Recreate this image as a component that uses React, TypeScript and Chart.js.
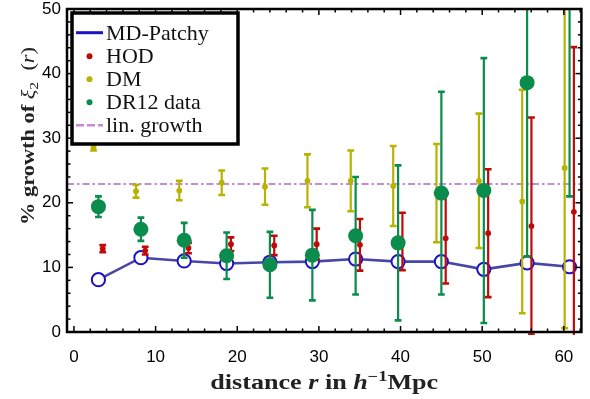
import React, { useEffect, useRef } from 'react';
import { Chart, registerables } from 'chart.js';

Chart.register(...registerables);

// Separation bins (h^-1 Mpc) and growth of the quadrupole, in percent
const rBins = [3.0, 8.2, 13.5, 18.7, 24.0, 29.2, 34.5, 39.7, 45.0, 50.2, 55.5, 60.7];
const patchyGrowth = [8.1, 11.5, 11.0, 10.6, 10.8, 10.9, 11.3, 10.9, 10.9, 9.7, 10.7, 10.1];
const hodGrowth = [12.9, 12.6, 13.0, 13.6, 13.4, 13.6, 13.5, 14.0, 14.5, 15.3, 16.4, 18.6];
const hodError = [0.55, 0.6, 0.8, 1.05, 1.5, 2.4, 4.0, 4.45, 7.0, 9.9, 16.8, 25.5];
const dmGrowth = [28.6, 21.8, 21.9, 23.1, 22.5, 23.4, 23.4, 22.6, 21.5, 23.4, 20.2, 25.4];
const dmError = [0.5, 1.0, 1.5, 1.9, 2.8, 4.1, 4.7, 6.2, 7.6, 10.4, 17.3, 24.8];
const dr12Growth = [19.4, 15.9, 14.2, 11.8, 10.4, 11.9, 14.9, 13.8, 21.5, 21.9, 38.6, 56.0];
const dr12Error = [1.6, 1.8, 2.7, 3.6, 5.1, 7.0, 9.1, 12.0, 15.7, 20.5, 26.9, 35.0];
const linGrowth = 22.9;

const xTicks = [0, 10, 20, 30, 40, 50, 60];
const yTicks = [0, 10, 20, 30, 40, 50];
const legendLabels = ['MD-Patchy', 'HOD', 'DM', 'DR12 data', 'lin. growth'];

const X_MIN = -0.85;
const X_MAX = 62.15;
const HOD_SHIFT = 0.53;
const DM_SHIFT = -0.6;

const GREEN = '#0a8c4c';
const RED = '#c00a0a';
const YELLOW = '#b8b200';
const CIRCLE_BLUE = '#1e12c4';
const LINE_BLUE = '#4646a8';
const ORCHID = '#c88ad2';
const LIN_DASH = [7, 3, 2.5, 3];

type Seg = { t: string; italic?: boolean; bold?: boolean; scale?: number; dy?: number };

const xTitle: Seg[] = [
  { t: 'distance ', bold: true },
  { t: 'r', italic: true, bold: true },
  { t: ' in ', bold: true },
  { t: 'h', italic: true, bold: true },
  { t: '\u22121', bold: true, scale: 0.7, dy: -0.42 },
  { t: 'Mpc', bold: true },
];

const yTitle: Seg[] = [
  { t: '% growth of ', bold: true },
  { t: '\u03be', italic: true },
  { t: '2', scale: 0.7, dy: 0.25 },
  { t: '  (', },
  { t: 'r', italic: true },
  { t: ')' },
];

const SERIF = "'Liberation Serif', 'Times New Roman', serif";
const SANS = "'Liberation Sans', Arial, Helvetica, sans-serif";

function drawRich(ctx: CanvasRenderingContext2D, segs: Seg[], size: number, targetW: number) {
  const fontOf = (s: Seg) =>
    `${s.italic ? 'italic ' : ''}${s.bold ? 'bold ' : ''}${size * (s.scale || 1)}px ${SERIF}`;
  const widths = segs.map((s) => {
    ctx.font = fontOf(s);
    return ctx.measureText(s.t).width;
  });
  const total = widths.reduce((a, b) => a + b, 0);
  ctx.save();
  ctx.scale(targetW / total, 1);
  let x = -total / 2;
  ctx.textAlign = 'left';
  ctx.textBaseline = 'alphabetic';
  segs.forEach((s, i) => {
    ctx.font = fontOf(s);
    ctx.fillText(s.t, x, (s.dy || 0) * size);
    x += widths[i];
  });
  ctx.restore();
}

// Vertical error bars, drawn just beneath each dataset's markers
const errorBars = {
  id: 'errorBars',
  beforeDatasetDraw(chart: any, args: any) {
    const ds = chart.data.datasets[args.index];
    const errs: number[] | undefined = ds.errors;
    if (!errs) return;
    const { ctx, chartArea: a } = chart;
    const ys = chart.scales.y;
    ctx.save();
    ctx.beginPath();
    ctx.rect(a.left, a.top, a.right - a.left, a.bottom - a.top + 3);
    ctx.clip();
    ctx.strokeStyle = ds.borderColor;
    const cap = 3.4;
    args.meta.data.forEach((pt: any, i: number) => {
      const v = ds.data[i].y;
      const e = errs[i];
      const top = ys.getPixelForValue(v + e);
      const bot = ys.getPixelForValue(v - e);
      ctx.lineWidth = 2.2;
      ctx.beginPath();
      ctx.moveTo(pt.x, top);
      ctx.lineTo(pt.x, bot);
      ctx.stroke();
      ctx.lineWidth = 2.6;
      ctx.beginPath();
      ctx.moveTo(pt.x - cap, top);
      ctx.lineTo(pt.x + cap, top);
      ctx.moveTo(pt.x - cap, bot);
      ctx.lineTo(pt.x + cap, bot);
      ctx.stroke();
    });
    ctx.restore();
  },
};

// Frame with inward ticks on all four sides, plus axis titles and legend
const decorations = {
  id: 'decorations',
  afterDatasetsDraw(chart: any) {
    const { ctx, chartArea: a, scales } = chart;
    const xs = scales.x;
    const ys = scales.y;
    ctx.save();
    ctx.strokeStyle = '#000';
    ctx.lineWidth = 1.5;
    const seg = (x1: number, y1: number, x2: number, y2: number) => {
      ctx.beginPath();
      ctx.moveTo(x1, y1);
      ctx.lineTo(x2, y2);
      ctx.stroke();
    };
    for (let i = 0; i <= 31; i++) {
      const v = i * 2;
      const px = xs.getPixelForValue(v);
      if (px < a.left || px > a.right) continue;
      const len = v % 10 === 0 ? 6 : 3.5;
      seg(px, a.bottom, px, a.bottom - len);
      seg(px, a.top, px, a.top + len);
    }
    for (let i = 0; i <= 25; i++) {
      const v = i * 2;
      const py = ys.getPixelForValue(v);
      const len = v % 10 === 0 ? 6 : 3.5;
      seg(a.left, py, a.left + len, py);
      seg(a.right, py, a.right - len, py);
    }
    ctx.lineWidth = 2.5;
    ctx.strokeRect(a.left, a.top, a.right - a.left, a.bottom - a.top);
    ctx.restore();

    // axis titles
    ctx.save();
    ctx.fillStyle = '#222';
    ctx.translate((a.left + a.right) / 2, 389);
    drawRich(ctx, xTitle, 20, 228);
    ctx.restore();

    ctx.save();
    ctx.fillStyle = '#222';
    ctx.translate(33.5, 136);
    ctx.rotate(-Math.PI / 2);
    drawRich(ctx, yTitle, 19, 178);
    ctx.restore();

    // legend
    ctx.save();
    ctx.fillStyle = '#fff';
    ctx.fillRect(72, 13, 166, 131);
    ctx.lineWidth = 3.5;
    ctx.strokeStyle = '#000';
    ctx.strokeRect(72, 13, 166, 131);
    const baselines = [39.5, 63, 86, 109, 132];
    ctx.font = `22px ${SERIF}`;
    ctx.fillStyle = '#111';
    ctx.textBaseline = 'alphabetic';
    ctx.textAlign = 'left';
    legendLabels.forEach((lab, i) => {
      const by = baselines[i];
      const sy = by - 6.8;
      ctx.fillText(lab, 106, by);
      if (i === 0) {
        ctx.strokeStyle = CIRCLE_BLUE;
        ctx.lineWidth = 3;
        ctx.setLineDash([]);
        ctx.beginPath();
        ctx.moveTo(76, sy);
        ctx.lineTo(103, sy);
        ctx.stroke();
      } else if (i === 4) {
        ctx.strokeStyle = ORCHID;
        ctx.lineWidth = 2.5;
        ctx.setLineDash([8, 3]);
        ctx.beginPath();
        ctx.moveTo(76, sy);
        ctx.lineTo(103, sy);
        ctx.stroke();
        ctx.setLineDash([]);
      } else {
        ctx.fillStyle = [RED, YELLOW, GREEN][i - 1];
        ctx.beginPath();
        ctx.arc(89.5, sy, 3, 0, Math.PI * 2);
        ctx.fill();
        ctx.fillStyle = '#111';
      }
    });
    ctx.restore();
  },
};

export default function App() {
  const ref = useRef<HTMLCanvasElement>(null);

  useEffect(() => {
    document.body.style.margin = '0';
    const canvas = ref.current!;
    const chart = new Chart(canvas, {
      type: 'scatter',
      data: {
        datasets: [
          {
            label: 'DR12 data',
            data: rBins.map((r, i) => ({ x: r, y: dr12Growth[i] })),
            backgroundColor: GREEN,
            borderColor: GREEN,
            pointRadius: 7.5,
            pointBorderWidth: 0,
            errors: dr12Error,
          } as any,
          {
            label: 'HOD',
            data: rBins.map((r, i) => ({ x: r + HOD_SHIFT, y: hodGrowth[i] })),
            backgroundColor: RED,
            borderColor: RED,
            pointRadius: 2.9,
            pointBorderWidth: 0,
            errors: hodError,
          } as any,
          {
            label: 'DM',
            data: rBins.map((r, i) => ({ x: r + DM_SHIFT, y: dmGrowth[i] })),
            backgroundColor: YELLOW,
            borderColor: YELLOW,
            pointRadius: 2.9,
            pointBorderWidth: 0,
            errors: dmError,
          } as any,
          {
            label: 'MD-Patchy',
            data: rBins.map((r, i) => ({ x: r, y: patchyGrowth[i] })),
            showLine: true,
            borderColor: LINE_BLUE,
            borderWidth: 2.6,
            pointRadius: 6.6,
            pointBorderWidth: 2,
            pointBackgroundColor: '#fff',
            pointBorderColor: CIRCLE_BLUE,
          },
          {
            label: 'lin. growth',
            data: [
              { x: X_MIN, y: linGrowth },
              { x: X_MAX, y: linGrowth },
            ],
            showLine: true,
            borderColor: ORCHID,
            borderWidth: 2,
            borderDash: LIN_DASH,
            pointRadius: 0,
          },
        ],
      },
      options: {
        animation: false,
        responsive: false,
        devicePixelRatio: 1,
        layout: { padding: { left: 0, right: 3, top: 9, bottom: 0 } },
        plugins: { legend: { display: false }, tooltip: { enabled: false } },
        scales: {
          x: {
            type: 'linear',
            min: X_MIN,
            max: X_MAX,
            grid: { display: false, drawTicks: false },
            border: { display: false },
            afterBuildTicks: (s: any) => {
              s.ticks = xTicks.map((v) => ({ value: v }));
            },
            afterFit: (s: any) => {
              s.height = 67;
              s.paddingLeft = 0;
              s.paddingRight = 0;
            },
            ticks: {
              color: '#000',
              padding: 15,
              maxRotation: 0,
              autoSkip: false,
              font: { family: SANS, size: 17 },
            },
          },
          y: {
            type: 'linear',
            min: 0,
            max: 50,
            grid: { display: false, drawTicks: false },
            border: { display: false },
            afterBuildTicks: (s: any) => {
              s.ticks = yTicks.map((v) => ({ value: v }));
            },
            afterFit: (s: any) => {
              s.width = 67;
              s.paddingTop = 0;
              s.paddingBottom = 0;
            },
            ticks: {
              color: '#000',
              padding: 6,
              autoSkip: false,
              font: { family: SANS, size: 17 },
            },
          },
        },
      },
      plugins: [errorBars, decorations],
    });
    return () => chart.destroy();
  }, []);

  return <canvas ref={ref} width={590} height={399} style={{ display: 'block' }} />;
}
